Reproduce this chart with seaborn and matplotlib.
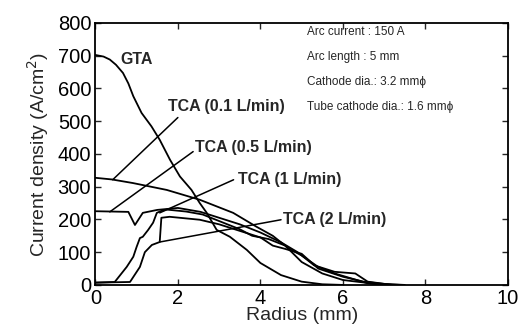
#!/usr/bin/env python3
"""
Radial current density profiles: GTA vs tube cathode arc (TCA) at several flow rates.
"""

import pandas as pd
import seaborn as sns
import matplotlib
matplotlib.use("Agg")
import matplotlib.pyplot as plt

# values (radius in mm, current density in A/cm2)
gta_r = [0.0, 0.2, 0.35, 0.5, 0.67, 0.8, 0.92, 1.12, 1.36, 1.56, 1.81, 2.05, 2.33, 2.53, 2.7, 2.94, 3.26, 3.67, 4.0, 4.5, 5.0, 5.5, 6.0]
gta_j = [702, 697, 688, 672, 647, 615, 576, 525, 484, 443, 382, 331, 290, 250, 220, 168, 147, 107, 67, 30, 10, 2, 0]

tca01_r = [0.0, 0.4, 0.91, 1.73, 2.53, 3.34, 3.9, 4.3, 4.7, 5.0, 5.4, 5.8, 6.2, 6.6, 7.0]
tca01_j = [327, 322, 311, 290, 260, 220, 178, 150, 110, 90, 55, 35, 20, 5, 0]

tca05_r = [0.0, 0.8, 0.96, 1.15, 1.5, 2.0, 2.55, 3.0, 3.5, 4.0, 4.5, 4.9, 5.3, 5.8, 6.3, 6.6, 7.2]
tca05_j = [225, 223, 183, 220, 229, 235, 223, 205, 185, 160, 130, 100, 60, 40, 35, 10, 0]

tca1_r = [0.0, 0.47, 0.76, 0.92, 1.0, 1.08, 1.15, 1.28, 1.4, 1.49, 1.6, 1.73, 2.2, 2.6, 3.0, 3.5, 3.8, 4.2, 4.6, 5.0, 5.5, 6.0, 6.8, 7.4]
tca1_j = [7, 9, 55, 86, 116, 143, 147, 168, 190, 220, 226, 230, 224, 215, 195, 170, 150, 140, 120, 70, 35, 15, 3, 0]

tca2_r = [0.0, 0.84, 1.08, 1.2, 1.37, 1.56, 1.6, 1.8, 2.53, 3.0, 3.5, 4.0, 4.3, 4.6, 5.0, 5.4, 6.0, 6.5, 7.0, 7.5]
tca2_j = [7, 9, 55, 100, 122, 131, 205, 208, 199, 185, 165, 145, 120, 110, 95, 50, 25, 10, 3, 0]

series = ["GTA", "TCA (0.1 L/min)", "TCA (0.5 L/min)", "TCA (1 L/min)", "TCA (2 L/min)"]
conditions = ["Arc current : 150 A", "Arc length : 5 mm",
              "Cathode dia.: 3.2 mm\u03d5", "Tube cathode dia.: 1.6 mm\u03d5"]

frames = []
for name, r, j in zip(series,
                      [gta_r, tca01_r, tca05_r, tca1_r, tca2_r],
                      [gta_j, tca01_j, tca05_j, tca1_j, tca2_j]):
    frames.append(pd.DataFrame({"r": r, "j": j, "case": name}))
df = pd.concat(frames, ignore_index=True)

sns.set_style("ticks")
plt.rcParams["font.family"] = ["Liberation Sans", "DejaVu Sans"]

fig = plt.figure(figsize=(5.21, 3.36), dpi=100)
ax = fig.add_axes([0.183, 0.152, 0.792, 0.78])

for name in series:
    sub = df[df["case"] == name]
    sns.lineplot(data=sub, x="r", y="j", estimator=None, sort=False,
                 color="black", lw=1.3, ax=ax)

ax.set_xlim(0, 10)
ax.set_ylim(0, 800)
ax.set_xticks(range(0, 11, 2))
ax.set_yticks(range(0, 801, 100))
ax.tick_params(direction="in", top=True, right=True, length=4, width=1,
               labelsize=14.5, labelcolor="black", pad=3)
for s in ax.spines.values():
    s.set_linewidth(1.3)
    s.set_color("black")
ax.set_xlabel("Radius (mm)", fontsize=14, labelpad=-1)
ax.set_ylabel("Current density (A/cm$^2$)", fontsize=14, labelpad=5)

# curve labels with leader lines
lab_kw = dict(fontsize=11.5, fontweight="bold", va="center", ha="left")
line_kw = dict(arrowstyle="-", color="black", lw=1.1, shrinkA=0, shrinkB=0)
ax.text(0.6, 688, series[0], **lab_kw)
ax.text(1.75, 545, series[1], **lab_kw)
ax.annotate("", xy=(0.42, 321), xytext=(2.0, 511), arrowprops=line_kw)
ax.text(2.42, 418, series[2], **lab_kw)
ax.annotate("", xy=(0.35, 223), xytext=(2.37, 407), arrowprops=line_kw)
ax.text(3.45, 321, series[3], **lab_kw)
ax.annotate("", xy=(1.56, 220), xytext=(3.35, 321), arrowprops=line_kw)
ax.text(4.55, 199, series[4], **lab_kw)
ax.annotate("", xy=(1.56, 131), xytext=(4.5, 199), arrowprops=line_kw)

for k, txt in enumerate(conditions):
    ax.text(5.13, 771 - k * 76, txt, fontsize=8.5, va="center", ha="left")

fig.savefig("out.png", dpi=100)
